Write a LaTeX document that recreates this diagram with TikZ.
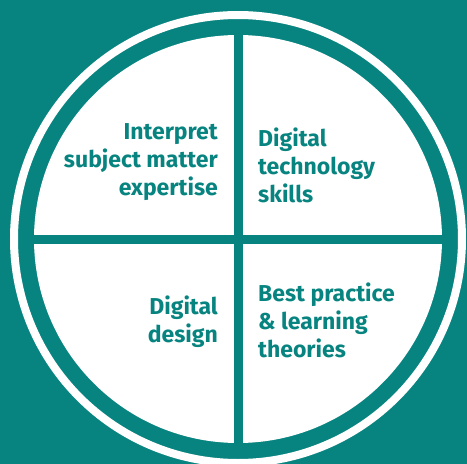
\documentclass[tikz,border=0pt]{standalone}
\usepackage{fontspec}
\setmainfont{Fira Sans}
\definecolor{wheelteal}{RGB}{8,132,128}
\tikzset{
  quadtext/.style={font=\bfseries\fontsize{23}{28}\selectfont, text=wheelteal, inner sep=0pt},
  leftq/.style={quadtext, align=right, anchor=base east},
  rightq/.style={quadtext, align=left, anchor=base west}
}
\begin{document}
\begin{tikzpicture}[x=1pt,y=-1pt]
\fill[wheelteal] (0,0) rectangle (467,464);
\useasboundingbox (0,0) rectangle (467,464);
\coordinate (c) at (238,239);
\draw[white, line width=8pt] (c) circle[radius=224pt];
\fill[white] (c) circle[radius=204pt];
\draw[wheelteal, line width=9pt] (238,30) -- (238,450);
\draw[wheelteal, line width=9pt] (30,239) -- (446,239);
% last line sets the base
\node[leftq] (expertise) at (218,195) {Interpret\\subject matter\\expertise};
\node[rightq] (skills) at (258,202) {Digital\\technology\\skills};
\node[leftq] (design) at (218,342) {Digital\\design};
\node[rightq] (theories) at (258,357) {Best practice\\\& learning\\theories};
\end{tikzpicture}
\end{document}
